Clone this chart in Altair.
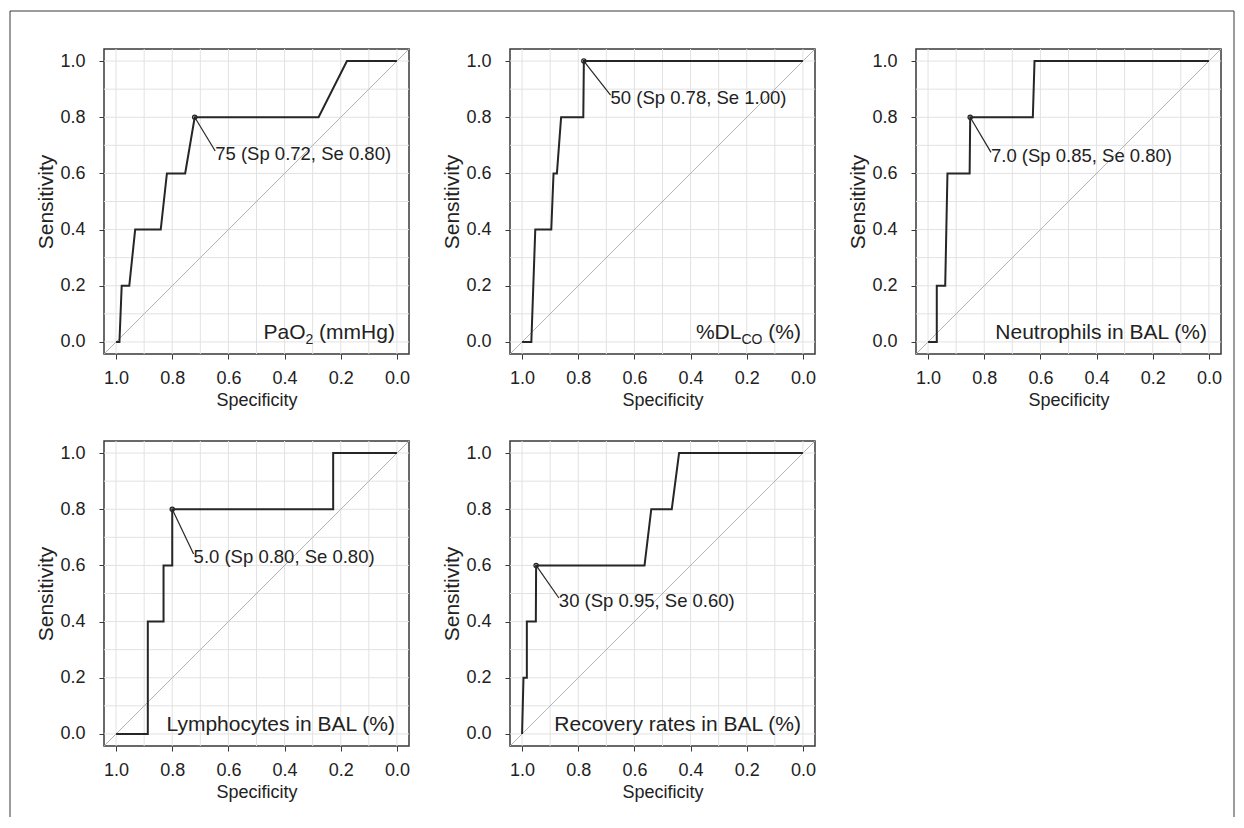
import altair as alt
import pandas as pd

FONT = "Liberation Sans, Arial, Helvetica, sans-serif"
INK = "#222222"
CURVE = "#262626"
GRID_COLOR = "#e2e2e2"
DIAG_COLOR = "#b5b5b5"
FRAME = "#383838"

# ---------------- data ----------------
pao2_sp = [1.0, 0.988, 0.98, 0.953, 0.932, 0.841, 0.819, 0.754, 0.72, 0.279, 0.178, 0.0]
pao2_se = [0.0, 0.0, 0.2, 0.2, 0.4, 0.4, 0.6, 0.6, 0.8, 0.8, 1.0, 1.0]
dlco_sp = [1.0, 0.967, 0.953, 0.896, 0.888, 0.876, 0.861, 0.782, 0.78, 0.0]
dlco_se = [0.0, 0.0, 0.4, 0.4, 0.6, 0.6, 0.8, 0.8, 1.0, 1.0]
neut_sp = [1.0, 0.969, 0.969, 0.939, 0.935, 0.931, 0.852, 0.85, 0.627, 0.621, 0.0]
neut_se = [0.0, 0.0, 0.2, 0.2, 0.4, 0.6, 0.6, 0.8, 0.8, 1.0, 1.0]
lymph_sp = [1.0, 0.887, 0.887, 0.831, 0.831, 0.80, 0.80, 0.227, 0.227, 0.0]
lymph_se = [0.0, 0.0, 0.4, 0.4, 0.6, 0.6, 0.8, 0.8, 1.0, 1.0]
recov_sp = [1.0, 0.995, 0.983, 0.983, 0.951, 0.95, 0.564, 0.54, 0.467, 0.441, 0.0]
recov_se = [0.0, 0.2, 0.2, 0.4, 0.4, 0.6, 0.6, 0.8, 0.8, 1.0, 1.0]

cut_sp = [0.72, 0.78, 0.85, 0.80, 0.95]
cut_se = [0.80, 1.00, 0.80, 0.80, 0.60]
cut_text = ["75 (Sp 0.72, Se 0.80)", "50 (Sp 0.78, Se 1.00)", "7.0 (Sp 0.85, Se 0.80)",
            "5.0 (Sp 0.80, Se 0.80)", "30 (Sp 0.95, Se 0.60)"]
text_sp = [0.647, 0.685, 0.776, 0.724, 0.869]
text_se = [0.668, 0.867, 0.663, 0.629, 0.472]

# panel names: (text, is_subscript)
names = [
    [("PaO", False), ("2", True), (" (mmHg)", False)],
    [("%DL", False), ("CO", True), (" (%)", False)],
    [("Neutrophils in BAL (%)", False)],
    [("Lymphocytes in BAL (%)", False)],
    [("Recovery rates in BAL (%)", False)],
]

curves = [(pao2_sp, pao2_se), (dlco_sp, dlco_se), (neut_sp, neut_se),
          (lymph_sp, lymph_se), (recov_sp, recov_se)]

tick_values = [0.0, 0.2, 0.4, 0.6, 0.8, 1.0]
grid_values = [0.0, 0.1, 0.2, 0.3, 0.4, 0.5, 0.6, 0.7, 0.8, 0.9, 1.0]

# ---------------- layout helpers ----------------
LO, HI = -0.043, 1.043
SIZE = 305
NAME_FS = 21
SUB_FS = 14

W = {' ': 278, '(': 333, ')': 333, '%': 889, '.': 278, ',': 278, 'A': 667, 'B': 667,
     'C': 722, 'D': 722, 'H': 722, 'L': 556, 'N': 722, 'O': 778, 'P': 667, 'R': 722,
     'S': 667, 'a': 556, 'c': 500, 'e': 556, 'g': 556, 'h': 556, 'i': 222, 'l': 222,
     'm': 833, 'n': 556, 'o': 556, 'p': 556, 'r': 333, 's': 500, 't': 278, 'u': 556,
     'v': 500, 'y': 500}


def tw(s, size):
    return sum(W.get(c, 556) for c in s) * size / 1000.0


def panel(i):
    xs = alt.Scale(domain=[HI, LO], nice=False, zero=False)
    ys = alt.Scale(domain=[LO, HI], nice=False, zero=False)
    x_axis = alt.Axis(title="Specificity", values=tick_values, format=".1f",
                      labelPadding=10, titlePadding=4, labelFlush=False)
    y_axis = alt.Axis(title="Sensitivity", values=tick_values, format=".1f",
                      labelPadding=14, titlePadding=3, minExtent=45, maxExtent=45,
                      titleFontSize=21, labelFlush=False)

    def X(f):
        return alt.X(f, scale=xs, axis=x_axis)

    def Y(f):
        return alt.Y(f, scale=ys, axis=y_axis)

    gdf = pd.DataFrame({"g": grid_values})
    vgrid = alt.Chart(gdf).mark_rule(color=GRID_COLOR, strokeWidth=1).encode(x=X("g:Q"))
    hgrid = alt.Chart(gdf).mark_rule(color=GRID_COLOR, strokeWidth=1).encode(y=Y("g:Q"))

    ddf = pd.DataFrame({"sp": [HI, LO], "se": [1 - HI, 1 - LO]})
    diag = alt.Chart(ddf).mark_line(color=DIAG_COLOR, strokeWidth=1, clip=True).encode(
        x=X("sp:Q"), y=Y("se:Q"))

    sp, se = curves[i]
    cdf = pd.DataFrame({"sp": sp, "se": se, "k": list(range(len(sp)))})
    curve = alt.Chart(cdf).mark_line(color=CURVE, strokeWidth=2).encode(
        x=X("sp:Q"), y=Y("se:Q"), order="k:Q")

    adf = pd.DataFrame({"sp": [cut_sp[i]], "se": [cut_se[i]],
                        "tsp": [text_sp[i]], "tse": [text_se[i] + 0.012],
                        "lsp": [text_sp[i]], "lse": [text_se[i]],
                        "label": [cut_text[i]]})
    leader = alt.Chart(adf).mark_rule(color=CURVE, strokeWidth=1.2).encode(
        x=X("sp:Q"), y=Y("se:Q"), x2="tsp:Q", y2="tse:Q")
    point = alt.Chart(adf).mark_point(shape="circle", filled=False, size=18,
                                      strokeWidth=1.3, color=CURVE, opacity=1).encode(
        x=X("sp:Q"), y=Y("se:Q"))
    label = alt.Chart(adf).mark_text(align="left", baseline="middle", font=FONT,
                                     fontSize=18.5, color=INK).encode(
        x=X("lsp:Q"), y=Y("lse:Q"), text="label:N")

    layers = [vgrid, hgrid, diag, curve, leader, point, label]

    # panel name, right aligned at specificity 0
    parts = names[i]
    ndf = pd.DataFrame({"sp": [0.0], "se": [0.012]})
    acc = 0.0
    for txt, sub in reversed(parts):
        fs = SUB_FS if sub else NAME_FS
        layers.append(
            alt.Chart(ndf).mark_text(align="right", baseline="alphabetic", font=FONT,
                                     fontSize=fs, color=INK, dx=-2 - acc,
                                     dy=5 if sub else 0).encode(
                x=X("sp:Q"), y=Y("se:Q"), text=alt.value(txt)))
        acc += tw(txt, fs)

    if i == 0:
        one = pd.DataFrame({"a": [0]})
        bl = -94
        br = 1130
        bt = -38
        bb = 768
        layers.append(alt.Chart(one).mark_rule(color=FRAME, strokeWidth=1).encode(
            x=alt.value(bl), x2=alt.value(br), y=alt.value(bt)))
        layers.append(alt.Chart(one).mark_rule(color=FRAME, strokeWidth=1).encode(
            x=alt.value(bl), y=alt.value(bt), y2=alt.value(bb)))
        layers.append(alt.Chart(one).mark_rule(color=FRAME, strokeWidth=1).encode(
            x=alt.value(br), y=alt.value(bt), y2=alt.value(bb)))

    return alt.layer(*layers).properties(width=SIZE, height=SIZE)


chart = alt.concat(*[panel(i) for i in range(5)], columns=3,
                   spacing={"row": 87, "column": 101}, bounds="flush").properties(
    padding={"left": 0, "top": 1, "right": 0, "bottom": 0},
    background="white",
).configure_view(
    stroke=FRAME, strokeWidth=1.5
).configure_axis(
    domain=False, grid=False, ticks=True, tickColor=FRAME, tickSize=5, tickWidth=1,
    labelFont=FONT, labelFontSize=18, labelColor=INK,
    titleFont=FONT, titleFontSize=18, titleFontWeight="normal", titleColor=INK,
)

chart.save("out.html", embed_options={"renderer": "svg", "actions": False})
